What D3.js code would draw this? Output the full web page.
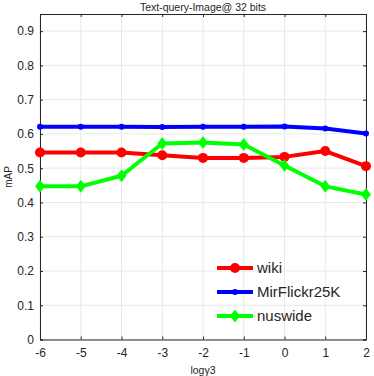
<!DOCTYPE html>
<html>
<head>
<meta charset="utf-8">
<script src="https://cdn.jsdelivr.net/npm/d3@7"></script>
<style>
  body { margin: 0; background: #fff; }
  text { font-family: "Liberation Sans", Arial, sans-serif; fill: #262626; }
  .grid line { stroke: #e8e8e8; stroke-width: 1; }
</style>
</head>
<body>
<svg width="374" height="376"></svg>
<script>
const xValues = [-6, -5, -4, -3, -2, -1, 0, 1, 2];
const wiki = [0.546, 0.546, 0.546, 0.538, 0.530, 0.530, 0.533, 0.550, 0.506];
const mirflickr = [0.621, 0.621, 0.621, 0.620, 0.621, 0.621, 0.622, 0.616, 0.601];
const nuswide = [0.447, 0.447, 0.478, 0.572, 0.575, 0.569, 0.508, 0.447, 0.423];
const yTicks = [0, 0.1, 0.2, 0.3, 0.4, 0.5, 0.6, 0.7, 0.8, 0.9];

const series = [
  {name: 'wiki', values: wiki, color: '#ff0000', marker: 'circle', size: 5},
  {name: 'MirFlickr25K', values: mirflickr, color: '#0000ff', marker: 'circle', size: 3},
  {name: 'nuswide', values: nuswide, color: '#00ff00', marker: 'diamond', size: 6.5}
];

const svg = d3.select('svg');
const plotLeft = 40, plotRight = 366, plotTop = 14, plotBottom = 339.5;

const x = d3.scaleLinear().domain([-6, 2]).range([plotLeft, plotRight]);
const y = d3.scaleLinear().domain([0, 0.95]).range([plotBottom, plotTop]);

// grid
const grid = svg.append('g').attr('class', 'grid');
grid.selectAll('.gx').data(xValues).enter().append('line')
    .attr('x1', d => x(d)).attr('x2', d => x(d))
    .attr('y1', plotTop).attr('y2', plotBottom);
grid.selectAll('.gy').data(yTicks).enter().append('line')
    .attr('x1', plotLeft).attr('x2', plotRight)
    .attr('y1', d => y(d)).attr('y2', d => y(d));

// axes (MATLAB style, ticks inside, box)
svg.append('g')
    .attr('transform', `translate(0, ${plotBottom})`)
    .call(d3.axisBottom(x).tickValues(xValues).tickSize(-3).tickPadding(9).tickFormat(d => String(d)));
svg.append('g')
    .attr('transform', `translate(0, ${plotTop})`)
    .call(d3.axisTop(x).tickValues(xValues).tickSize(-3).tickFormat(''));
svg.append('g')
    .attr('transform', `translate(${plotLeft}, 0)`)
    .call(d3.axisLeft(y).tickValues(yTicks).tickSize(-3).tickPadding(6).tickFormat(d => d === 0 ? '0' : d3.format('.1f')(d)));
svg.append('g')
    .attr('transform', `translate(${plotRight}, 0)`)
    .call(d3.axisRight(y).tickValues(yTicks).tickSize(-3).tickFormat(''));

svg.selectAll('.domain').attr('stroke', '#262626').attr('stroke-width', 1);
svg.selectAll('.tick line').attr('stroke', '#262626');
svg.selectAll('.tick text').attr('font-size', 12).attr('fill', '#262626')
    .attr('font-family', '"Liberation Sans", Arial, sans-serif');

// lines and markers
const line = d3.line().x((d, i) => x(xValues[i])).y(d => y(d));
const diamond = s => `M0,${-s}L${s * 0.75},0L0,${s}L${-s * 0.75},0Z`;

function drawMarker(g, s, px, py) {
  if (s.marker === 'circle') {
    g.append('circle').attr('cx', px).attr('cy', py).attr('r', s.size)
        .attr('fill', s.color);
  } else {
    g.append('path').attr('d', diamond(s.size))
        .attr('transform', `translate(${px},${py})`)
        .attr('fill', s.color);
  }
}

series.forEach(s => {
  const g = svg.append('g');
  g.append('path').datum(s.values)
      .attr('d', line)
      .attr('fill', 'none')
      .attr('stroke', s.color)
      .attr('stroke-width', 4)
      .attr('stroke-linejoin', 'round');
  s.values.forEach((v, i) => drawMarker(g, s, x(xValues[i]), y(v)));
});

// legend
const legend = svg.append('g').attr('transform', 'translate(217, 268)');
series.forEach((s, i) => {
  const g = legend.append('g').attr('transform', `translate(0, ${i * 24})`);
  g.append('line').attr('x1', 0).attr('x2', 36).attr('y1', 0).attr('y2', 0)
      .attr('stroke', s.color).attr('stroke-width', 4);
  drawMarker(g, s, 18, 0);
  g.append('text').attr('x', 40).attr('y', 5).attr('font-size', 15).text(s.name);
});

// titles
svg.append('text').attr('x', 203).attr('y', 11).attr('text-anchor', 'middle')
    .attr('font-size', 10.5).text('Text-query-Image@ 32 bits');
svg.append('text').attr('x', 203).attr('y', 374).attr('text-anchor', 'middle')
    .attr('font-size', 10.5).text('logγ3');
svg.append('text').attr('transform', 'translate(12, 177) rotate(-90)')
    .attr('text-anchor', 'middle').attr('font-size', 10).text('mAP');
</script>
</body>
</html>
